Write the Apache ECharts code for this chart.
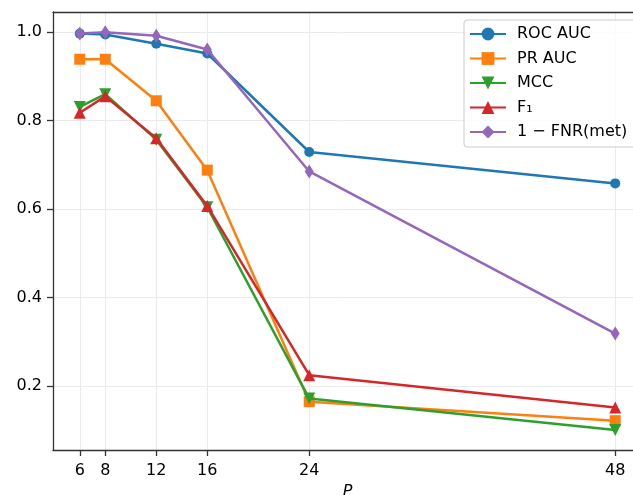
<!DOCTYPE html>
<html>
<head>
<meta charset="utf-8">
<script src="https://cdn.jsdelivr.net/npm/echarts@6/dist/echarts.min.js"></script>
<style>
  html, body { margin: 0; padding: 0; background: #fff; }
  #chart { width: 633px; height: 495px; }
</style>
</head>
<body>
<div id="chart"></div>
<script>
  // window sizes P on the x axis
  let P = [6, 8, 12, 16, 24, 48];
  let yTicks = [0.2, 0.4, 0.6, 0.8, 1.0];

  let rocAuc = [0.997, 0.995, 0.974, 0.952, 0.729, 0.658];
  let prAuc  = [0.939, 0.939, 0.845, 0.688, 0.164, 0.121];
  let mcc    = [0.831, 0.860, 0.757, 0.604, 0.171, 0.100];
  let f1     = [0.818, 0.855, 0.760, 0.607, 0.224, 0.151];
  let fnrMet = [0.997, 1.000, 0.992, 0.961, 0.685, 0.318];

  let names   = ['ROC AUC', 'PR AUC', 'MCC', 'F₁', '1 − FNR(met)'];
  let colors  = ['#1f77b4', '#ff7f0e', '#2ca02c', '#d62728', '#9467bd'];
  let symbols = ['circle', 'rect', 'triangle', 'triangle', 'diamond'];
  let sizes   = [10, 11, 12, 12, [9, 14]];
  let rotates = [0, 0, 180, 0, 0];
  let values  = [rocAuc, prAuc, mcc, f1, fnrMet];

  let font = 'DejaVu Sans';
  let spine = { color: '#333', width: 1.3 };

  let series = names.map(function(name, i) {
    return {
      name: name,
      type: 'line',
      data: P.map(function(p, j) { return [p, values[i][j]]; }),
      symbol: symbols[i],
      symbolSize: sizes[i],
      symbolRotate: rotates[i],
      color: colors[i],
      lineStyle: { width: 2.5, color: colors[i] },
      itemStyle: { color: colors[i] },
      z: 2 + i
    };
  });

  let chart = echarts.init(document.getElementById('chart'));

  let option = {
    animation: false,
    textStyle: { fontFamily: font },
    grid: {
      left: 53, top: 12, bottom: 45, right: -9,
      containLabel: false,
      outerBoundsMode: 'none'
    },
    legend: {
      orient: 'vertical',
      left: 464,
      top: 20,
      padding: [6, 20, 7, 5],
      itemWidth: 36,
      itemHeight: 16,
      itemGap: 8.5,
      backgroundColor: 'rgba(255,255,255,0.85)',
      borderColor: '#cccccc',
      borderWidth: 1,
      borderRadius: 3,
      textStyle: { fontFamily: font, fontSize: 16, color: '#000', padding: [0, 0, 0, 6] },
      data: names
    },
    xAxis: [{
      type: 'value',
      min: 3.9,
      max: 50.1,
      name: 'P',
      nameLocation: 'middle',
      nameGap: 32,
      nameTextStyle: { fontFamily: font, fontSize: 16, fontStyle: 'italic', color: '#000' },
      axisLine: { show: true, onZero: false, lineStyle: spine },
      axisTick: { show: true, length: 6, customValues: P, lineStyle: spine },
      axisLabel: { customValues: P, margin: 13, fontSize: 16, color: '#000', fontFamily: font },
      splitLine: { show: true, lineStyle: { color: '#ebebeb', width: 1 } }
    }, {
      // top spine only
      type: 'value',
      position: 'top',
      min: 3.9,
      max: 50.1,
      axisLine: { show: true, onZero: false, lineStyle: spine },
      axisTick: { show: false },
      axisLabel: { show: false },
      splitLine: { show: false }
    }],
    yAxis: {
      type: 'value',
      min: 0.0546,
      max: 1.0459,
      axisLine: { show: true, onZero: false, lineStyle: spine },
      axisTick: { show: true, length: 6, customValues: yTicks, lineStyle: spine },
      axisLabel: {
        customValues: yTicks, margin: 11, fontSize: 16, color: '#000', fontFamily: font,
        formatter: function(v) { return v.toFixed(1); }
      },
      splitLine: { show: true, lineStyle: { color: '#ebebeb', width: 1 } }
    },
    series: series
  };

  chart.setOption(option);
</script>
</body>
</html>
